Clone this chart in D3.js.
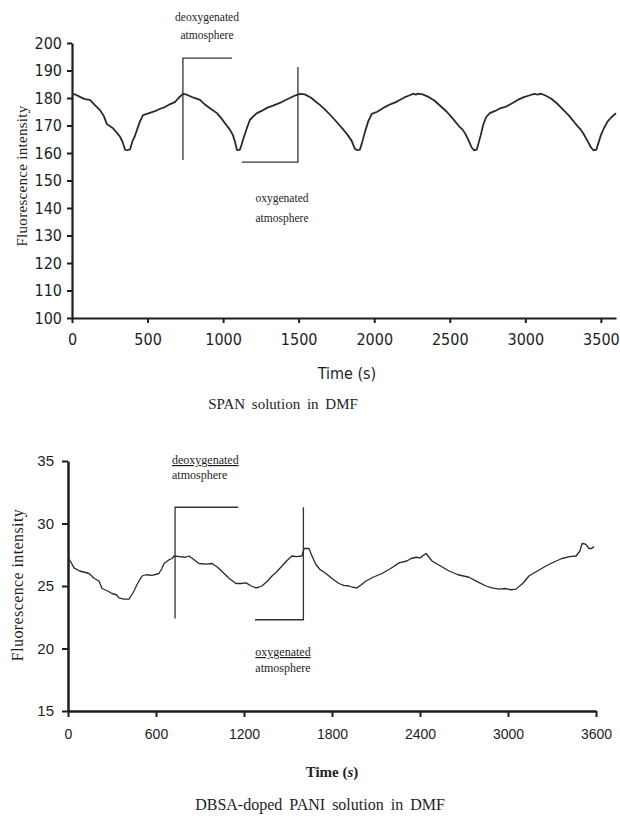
<!DOCTYPE html>
<html>
<head>
<meta charset="utf-8">
<script src="https://cdn.jsdelivr.net/npm/d3@7"></script>
<style>
  body { margin: 0; background: #fff; }
  .narrow { font-family: "Liberation Sans Narrow", "Arial Narrow", "DejaVu Sans Condensed", sans-serif; }
  .serif { font-family: "Liberation Serif", "Times New Roman", serif; }
  .sans { font-family: "Liberation Sans", Arial, sans-serif; }
</style>
</head>
<body>
<div id="chart"></div>
<script>
// Top panel: SPAN solution in DMF
const spanTime = [0, 25, 53, 85, 119, 150, 185, 210, 231, 250, 271, 295, 317, 335, 351, 365, 384, 393, 403, 415, 430, 450, 470, 500, 525, 549, 580, 615, 650, 681, 705, 734,
  760, 800, 847, 880, 920, 959, 990, 1020, 1045, 1065, 1080, 1091, 1100, 1111, 1122, 1131, 1145, 1157, 1177, 1200, 1224, 1255, 1290, 1330, 1376, 1410, 1442, 1475, 1508,
  1540, 1580, 1610, 1640, 1675, 1706, 1740, 1772, 1800, 1825, 1850, 1872, 1890, 1905, 1918, 1938, 1960, 1984, 2020, 2050, 2070, 2110, 2140, 2169, 2200, 2235, 2260, 2275, 2288,
  2320, 2360, 2400, 2440, 2480, 2520, 2560, 2585, 2605, 2625, 2645, 2660, 2678, 2690, 2705, 2720, 2740, 2765, 2800, 2835, 2870, 2910, 2950, 2990, 3030, 3060, 3082,
  3100, 3130, 3170, 3210, 3250, 3290, 3330, 3365, 3385, 3410, 3435, 3450, 3470, 3480, 3500, 3520, 3545, 3570, 3600];
const spanIntensity = [181.5, 181.2, 180.4, 179.6, 179.3, 177.5, 175.6, 173.5, 170.5, 169.8, 169, 167.5, 166, 164, 161.2, 161, 161.3, 163, 164.7, 166, 168.4, 171.5, 173.8, 174.3, 174.8, 175.2, 176, 176.7, 177.8, 178.5, 180, 181.5,
  181.2, 180.2, 179.3, 177.6, 176, 174.5, 172.5, 170.3, 168.5, 166.5, 163.8, 161.2, 161, 161.2, 163, 164.7, 167, 169, 172, 173.3, 174.5, 175.3, 176.4, 177.2, 178.2, 179.2, 180, 180.9, 181.5,
  181.3, 180.2, 178.8, 177.5, 175.8, 174, 172, 170, 168.2, 166.5, 164.5, 161.5, 161, 161.2, 163.5, 167.5, 171.5, 174.2, 175, 176, 176.7, 177.8, 178.4, 179.3, 180.2, 181, 181.6, 181.2, 181.6,
  181.3, 180.4, 179, 177, 175, 172.5, 169.8, 168.5, 166.8, 164.5, 162, 161, 161.2, 163.5, 166.5, 170, 173, 174.5, 175.3, 176.3, 176.8, 178, 179.3, 180.3, 181, 181.5, 181.2,
  181.6, 181, 179.8, 178, 175.8, 173.5, 170.8, 168.6, 167, 164.5, 162, 161, 161.2, 163, 166.5, 169, 171.5, 173, 174.5];
const spanXTicks = [0, 500, 1000, 1500, 2000, 2500, 3000, 3500];
const spanYTicks = [100, 110, 120, 130, 140, 150, 160, 170, 180, 190, 200];

// Bottom panel: DBSA-doped PANI solution in DMF
const paniTime = [0, 20, 41, 80, 143, 180, 211, 232, 270, 300, 330, 348, 380, 416, 435, 450, 470, 484, 505, 532, 573, 620, 640, 655, 689, 710, 723, 760, 800, 825, 860, 893, 940, 982,
  1020, 1064, 1100, 1145, 1180, 1214, 1250, 1282, 1300, 1323, 1360, 1391, 1420, 1459, 1490, 1527, 1560, 1595, 1609, 1643, 1660, 1691, 1720, 1759, 1800, 1848, 1880, 1916, 1940, 1970,
  2000, 2032, 2080, 2141, 2200, 2257, 2310, 2340, 2373, 2400, 2441, 2482, 2540, 2598, 2660, 2734, 2790, 2850, 2890, 2939, 2980, 3020, 3055, 3100, 3143, 3200, 3259, 3310, 3368, 3420,
  3464, 3490, 3505, 3530, 3552, 3570, 3586];
const paniIntensity = [27.3, 26.9, 26.45, 26.2, 26.0, 25.6, 25.4, 24.8, 24.6, 24.4, 24.3, 24.05, 23.95, 23.95, 24.3, 24.6, 25.1, 25.4, 25.8, 25.9, 25.85, 26.0, 26.4, 26.8, 27.1, 27.2, 27.4, 27.35, 27.3, 27.4, 27.1, 26.8, 26.75, 26.8,
  26.5, 26.0, 25.6, 25.2, 25.2, 25.25, 25.0, 24.85, 24.9, 25.0, 25.4, 25.8, 26.1, 26.6, 27.0, 27.4, 27.35, 27.4, 28.0, 28.0, 27.5, 26.7, 26.3, 26.0, 25.6, 25.2, 25.05, 25.0, 24.9, 24.85,
  25.1, 25.4, 25.7, 26.0, 26.4, 26.85, 27.0, 27.2, 27.3, 27.25, 27.6, 27.0, 26.6, 26.2, 25.9, 25.7, 25.35, 25.0, 24.85, 24.75, 24.8, 24.7, 24.75, 25.2, 25.8, 26.2, 26.6, 26.9, 27.2, 27.35,
  27.4, 27.8, 28.4, 28.35, 28.0, 28.0, 28.15];
const paniXTicks = [0, 600, 1200, 1800, 2400, 3000, 3600];
const paniYTicks = [15, 20, 25, 30, 35];

// Bracket annotations, in data units [time, intensity]
const spanDeoxBracket = [[1058, 194.5], [734, 194.5], [734, 157.5]];
const spanOxBracket = [[1495, 191.3], [1495, 156.7], [1124, 156.7]];
const paniDeoxBracket = [[1160, 31.3], [730, 31.3], [730, 22.4]];
const paniOxBracket = [[1605, 31.3], [1605, 22.3], [1275, 22.3]];

const width = 620;
const height = 816;

const svg = d3.select('#chart')
    .append('svg')
    .attr('width', width)
    .attr('height', height);

const ink = '#1e1e1e';

// ---------- top panel ----------
const x1 = d3.scaleLinear().domain([0, 3600]).range([72, 616]);
const y1 = d3.scaleLinear().domain([100, 200]).range([318, 43]);

const topPanel = svg.append('g');

topPanel.append('g')
    .attr('transform', 'translate(0,318)')
    .call(d3.axisBottom(x1).tickValues(spanXTicks).tickSize(5).tickSizeOuter(0).tickPadding(11).tickFormat(d3.format('d')))
    .call(g => g.select('.domain').attr('stroke', ink).attr('stroke-width', 2.2))
    .call(g => g.selectAll('.tick line').attr('stroke', ink).attr('stroke-width', 2))
    .call(g => g.selectAll('text').attr('class', 'narrow').attr('fill', ink).style('font-size', '16px'));

topPanel.append('g')
    .attr('transform', 'translate(72,0)')
    .call(d3.axisLeft(y1).tickValues(spanYTicks).tickSize(5).tickSizeOuter(0).tickPadding(5))
    .call(g => g.select('.domain').attr('stroke', ink).attr('stroke-width', 2.2))
    .call(g => g.selectAll('.tick line').attr('stroke', ink).attr('stroke-width', 2))
    .call(g => g.selectAll('text').attr('class', 'narrow').attr('fill', ink).style('font-size', '16px'));

const line1 = d3.line()
    .x(i => x1(spanTime[i]))
    .y(i => y1(spanIntensity[i]));

topPanel.append('path')
    .attr('d', line1(d3.range(spanTime.length)))
    .attr('fill', 'none')
    .attr('stroke', '#2a2a2a')
    .attr('stroke-width', 1.8)
    .attr('stroke-linejoin', 'round');

const bracket1 = d3.line().x(d => x1(d[0])).y(d => y1(d[1]));
[spanDeoxBracket, spanOxBracket].forEach(b => {
    topPanel.append('path')
        .attr('d', bracket1(b))
        .attr('fill', 'none')
        .attr('stroke', '#333')
        .attr('stroke-width', 1.3);
});

topPanel.append('text').attr('class', 'serif')
    .attr('x', 207).attr('y', 21).attr('text-anchor', 'middle')
    .style('font-size', '11.5px').attr('fill', ink)
    .text('deoxygenated');
topPanel.append('text').attr('class', 'serif')
    .attr('x', 207).attr('y', 39).attr('text-anchor', 'middle')
    .style('font-size', '11.5px').attr('fill', ink)
    .text('atmosphere');
topPanel.append('text').attr('class', 'serif')
    .attr('x', 282).attr('y', 202).attr('text-anchor', 'middle')
    .style('font-size', '11.5px').attr('fill', ink)
    .text('oxygenated');
topPanel.append('text').attr('class', 'serif')
    .attr('x', 282).attr('y', 222).attr('text-anchor', 'middle')
    .style('font-size', '11.5px').attr('fill', ink)
    .text('atmosphere');

topPanel.append('text').attr('class', 'serif')
    .attr('transform', 'translate(27,176) rotate(-90)')
    .attr('text-anchor', 'middle')
    .style('font-size', '15px').style('letter-spacing', '0.3px').attr('fill', ink)
    .text('Fluorescence intensity');

topPanel.append('text').attr('class', 'narrow')
    .attr('x', 347).attr('y', 379).attr('text-anchor', 'middle')
    .style('font-size', '16px').attr('fill', ink)
    .text('Time (s)');

topPanel.append('text').attr('class', 'serif')
    .attr('x', 283).attr('y', 409).attr('text-anchor', 'middle')
    .style('font-size', '15px').style('word-spacing', '3px').attr('fill', ink)
    .text('SPAN solution in DMF');

// ---------- bottom panel ----------
const x2 = d3.scaleLinear().domain([0, 3600]).range([68, 596]);
const y2 = d3.scaleLinear().domain([15, 35]).range([711, 461]);

const bottomPanel = svg.append('g');

bottomPanel.append('g')
    .attr('transform', 'translate(0,711)')
    .call(d3.axisBottom(x2).tickValues(paniXTicks).tickSize(6).tickSizeOuter(0).tickPadding(12).tickFormat(d3.format('d')))
    .call(g => g.select('.domain').attr('stroke', ink).attr('stroke-width', 2.5))
    .call(g => g.selectAll('.tick line').attr('stroke', ink).attr('stroke-width', 2))
    .call(g => g.selectAll('text').attr('class', 'sans').attr('fill', ink).style('font-size', '14px'));

bottomPanel.append('g')
    .attr('transform', 'translate(68,0)')
    .call(d3.axisLeft(y2).tickValues(paniYTicks).tickSize(6).tickSizeOuter(0).tickPadding(8))
    .call(g => g.select('.domain').attr('stroke', ink).attr('stroke-width', 2.5))
    .call(g => g.selectAll('.tick line').attr('stroke', ink).attr('stroke-width', 2))
    .call(g => g.selectAll('text').attr('class', 'sans').attr('fill', ink).style('font-size', '15px'));

const line2 = d3.line()
    .x(i => x2(paniTime[i]))
    .y(i => y2(paniIntensity[i]));

bottomPanel.append('path')
    .attr('d', line2(d3.range(paniTime.length)))
    .attr('fill', 'none')
    .attr('stroke', '#2a2a2a')
    .attr('stroke-width', 1.3)
    .attr('stroke-linejoin', 'round');

const bracket2 = d3.line().x(d => x2(d[0])).y(d => y2(d[1]));
[paniDeoxBracket, paniOxBracket].forEach(b => {
    bottomPanel.append('path')
        .attr('d', bracket2(b))
        .attr('fill', 'none')
        .attr('stroke', '#333')
        .attr('stroke-width', 1.3);
});

bottomPanel.append('text').attr('class', 'serif')
    .attr('x', 172).attr('y', 464)
    .style('font-size', '12px').attr('fill', ink)
    .style('text-decoration', 'underline')
    .text('deoxygenated');
bottomPanel.append('text').attr('class', 'serif')
    .attr('x', 172).attr('y', 479)
    .style('font-size', '12px').attr('fill', ink)
    .text('atmosphere');
bottomPanel.append('text').attr('class', 'serif')
    .attr('x', 283).attr('y', 656).attr('text-anchor', 'middle')
    .style('font-size', '12px').attr('fill', ink)
    .style('text-decoration', 'underline')
    .text('oxygenated');
bottomPanel.append('text').attr('class', 'serif')
    .attr('x', 283).attr('y', 672).attr('text-anchor', 'middle')
    .style('font-size', '12px').attr('fill', ink)
    .text('atmosphere');

bottomPanel.append('text').attr('class', 'serif')
    .attr('transform', 'translate(23,585) rotate(-90)')
    .attr('text-anchor', 'middle')
    .style('font-size', '16px').style('letter-spacing', '0.4px').attr('fill', ink)
    .text('Fluorescence intensity');

bottomPanel.append('text').attr('class', 'serif')
    .attr('x', 332).attr('y', 777).attr('text-anchor', 'middle')
    .style('font-size', '15px').style('font-weight', 'bold').attr('fill', ink)
    .html('Time (<tspan font-style="italic">s</tspan>)');

bottomPanel.append('text').attr('class', 'serif')
    .attr('x', 320).attr('y', 810).attr('text-anchor', 'middle')
    .style('font-size', '16px').style('word-spacing', '3px').attr('fill', ink)
    .text('DBSA-doped PANI solution in DMF');
</script>
</body>
</html>
